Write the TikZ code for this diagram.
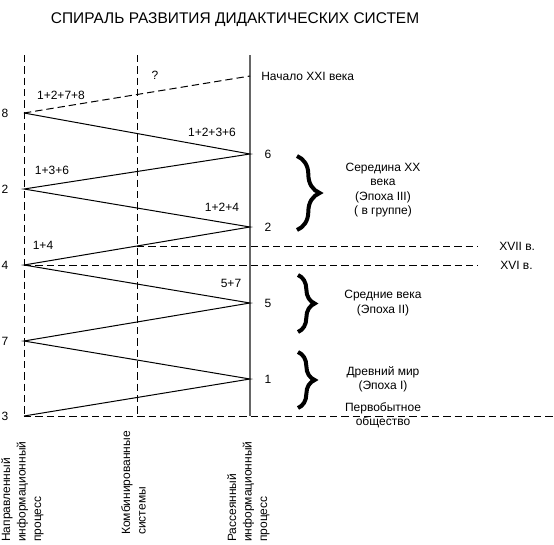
\documentclass[tikz,border=0pt]{standalone}
\usepackage{fontspec}
\setmainfont{Liberation Sans}
\usetikzlibrary{decorations.pathreplacing}
\begin{document}
\begin{tikzpicture}[
    x=0.75pt, y=-0.75pt,
    font=\fontsize{9}{10.8}\selectfont,
    guide/.style={line width=0.75pt, dash pattern=on 5.5pt off 3pt},
    mainline/.style={line width=1.1pt, draw=black!60},
    spiral/.style={line width=0.75pt},
    num/.style={inner sep=1pt},
    sumlabel/.style={inner sep=1pt},
    epoch/.style={align=center, inner sep=0pt, font=\fontsize{9}{10.7}\selectfont},
    bigbrace/.style={decorate, line width=3pt},
    axislabel/.style={rotate=90, anchor=north west, align=left, inner sep=0pt, font=\fontsize{9}{11.6}\selectfont}
]
    \useasboundingbox (0,0) rectangle (554,544);
    \node (title) at (235,20) {\fontsize{11.6}{14}\selectfont СПИРАЛЬ РАЗВИТИЯ ДИДАКТИЧЕСКИХ СИСТЕМ};

    \coordinate (Atop) at (24,55);
    \coordinate (Abot) at (24,416);
    \coordinate (Btop) at (137,55);
    \coordinate (Bbot) at (137,416);
    \coordinate (Ctop) at (250,55);
    \coordinate (Cbot) at (250,416);
    \coordinate (Eend) at (554,416);
    \coordinate (X17) at (137,246);
    \coordinate (X17e) at (478,246);
    \coordinate (X16e) at (478,265);

    \coordinate (L3) at (24,416);
    \coordinate (R1) at (250,379);
    \coordinate (L7) at (24,341);
    \coordinate (R5) at (250,303);
    \coordinate (L4) at (24,265);
    \coordinate (R2) at (250,227);
    \coordinate (L2) at (24,189);
    \coordinate (R6) at (250,154);
    \coordinate (L8) at (24,113);
    \coordinate (R0) at (250,76);

    \draw[guide] (Atop) -- (Abot);
    \draw[guide] (Btop) -- (Bbot);
    \draw[guide] (Abot) -- (Eend);
    \draw[guide] (X17) -- (X17e);
    \draw[guide] (L4) -- (X16e);
    \draw[mainline] (Ctop) -- (Cbot);

    \draw[spiral] (L3) -- (R1) -- (L7) -- (R5) -- (L4) -- (R2) -- (L2) -- (R6) -- (L8);
    \draw[spiral, dash pattern=on 5.5pt off 3pt] (L8) -- (R0);

    \node[num] (n8) at (5,113) {8};
    \node[num] (n2l) at (5,189) {2};
    \node[num] (n4) at (5,265) {4};
    \node[num] (n7) at (5,341) {7};
    \node[num] (n3) at (5,416) {3};
    \node[num] (n6) at (268,154) {6};
    \node[num] (n2r) at (268,227) {2};
    \node[num] (n5) at (268,303) {5};
    \node[num] (n1) at (268,379) {1};

    \node[sumlabel] (s1278) at (61,95) {1+2+7+8};
    \node[sumlabel] (sq) at (155,75) {?};
    \node[sumlabel] (s1236) at (212,132) {1+2+3+6};
    \node[sumlabel] (s136) at (52,170) {1+3+6};
    \node[sumlabel] (s124) at (222,207) {1+2+4};
    \node[sumlabel] (s14) at (43,245) {1+4};
    \node[sumlabel] (s57) at (231,283) {5+7};

    \node[anchor=west, inner sep=0pt] (xxi) at (261,76) {Начало XXI века};
    \node[anchor=west, inner sep=0pt] (xvii) at (499,246) {XVII в.};
    \node[anchor=west, inner sep=0pt] (xvi) at (500,265) {XVI в.};

    \draw[bigbrace, decoration={brace, amplitude=17pt}] (297,156) -- (297,230);
    \draw[bigbrace, decoration={brace, amplitude=12.5pt}] (298,275) -- (298,332);
    \draw[bigbrace, decoration={brace, amplitude=12.5pt}] (298,352) -- (298,408);

    \node[epoch] (ep3) at (383,190) {Середина ХХ\\века\\(Эпоха III)\\( в группе)};
    \node[epoch] (ep2) at (383,303) {Средние века\\(Эпоха II)};
    \node[epoch] (ep1) at (383,379) {Древний мир\\(Эпоха I)};
    \node[epoch] (ep0) at (383,415) {Первобытное\\общество};

    \node[axislabel] (dirproc) at (1,542) {Направленный\\информационный\\процесс};
    \node[axislabel] (combsys) at (121,535) {Комбинированные\\системы};
    \node[axislabel] (scatproc) at (227,542) {Рассеянный\\информационный\\процесс};
\end{tikzpicture}
\end{document}
